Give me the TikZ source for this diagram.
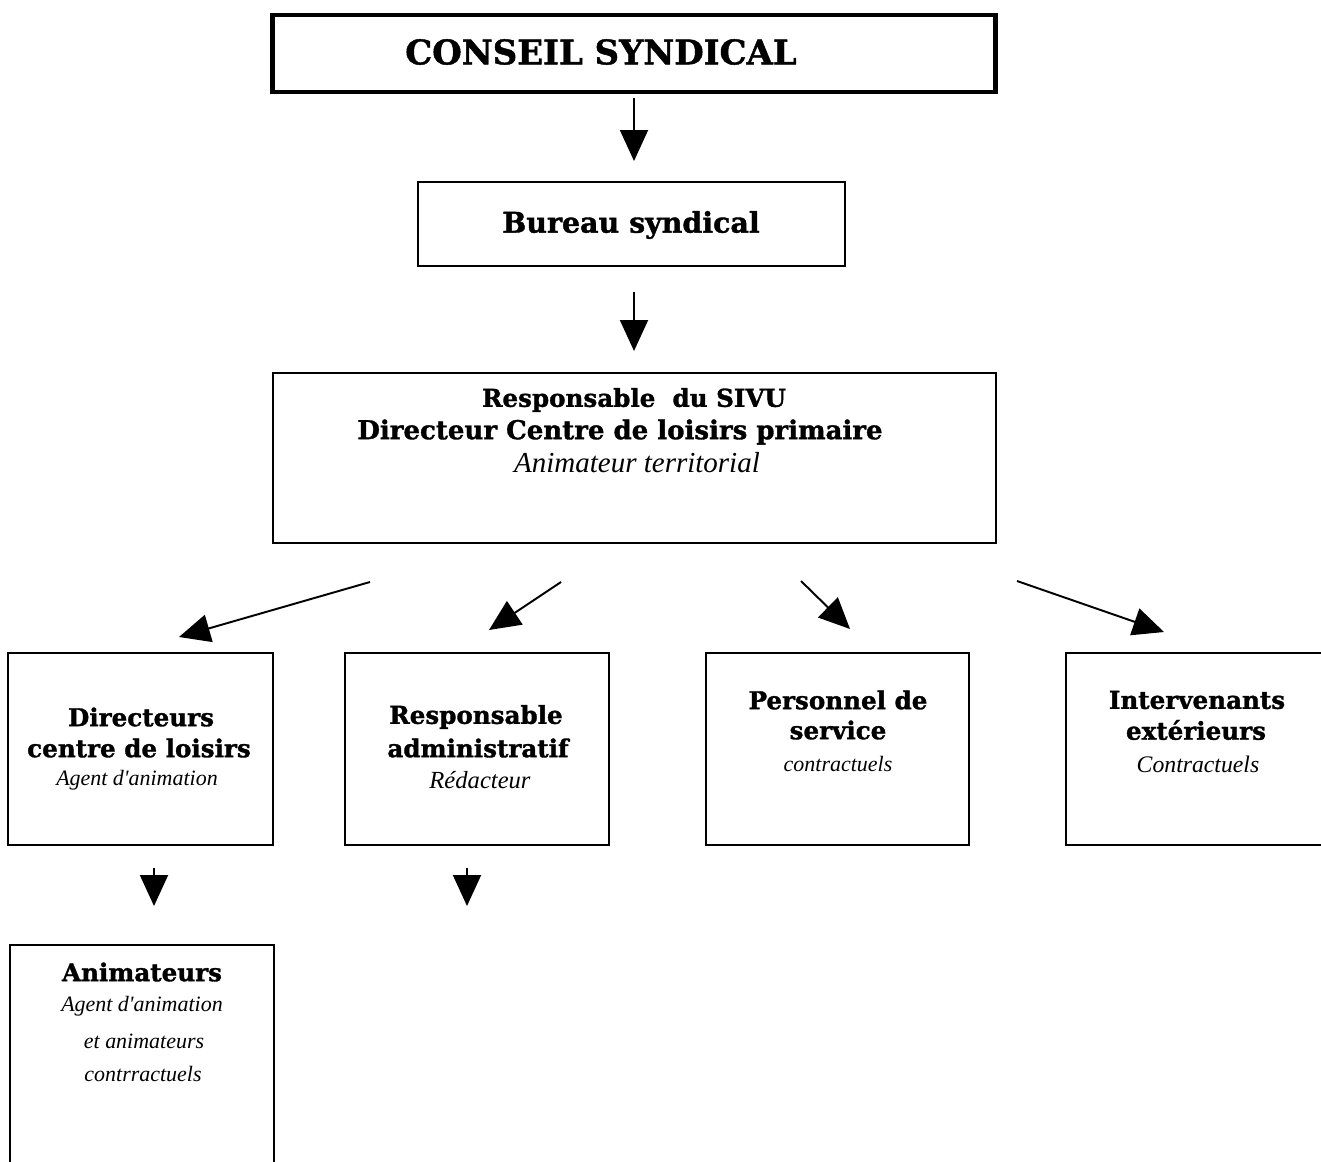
\documentclass[tikz,border=0pt]{standalone}
\usepackage{fontspec}
\setmainfont{DejaVu Serif}[BoldFeatures={FakeBold=1.3}]
\newfontfamily\scriptf{Liberation Serif}
\usetikzlibrary{arrows.meta}
\begin{document}
\begin{tikzpicture}[x=0.02cm,y=-0.02cm,
  box/.style={draw, line width=1.1pt, inner sep=0pt},
  arr/.style={line width=1.1pt, -{Triangle[length=0.62cm,width=0.56cm]}},
  hd/.style={font=\bfseries\fontsize{14}{17}\selectfont, inner sep=0pt},
  sc/.style={font=\scriptf\itshape\fontsize{12.5}{15}\selectfont, inner sep=0pt}]
\useasboundingbox (0,0) rectangle (1321,1162);

% boxes
\node[box, line width=2.8pt, minimum width=14.48cm, minimum height=1.54cm] (conseil) at (634,53.5) {};
\node[box, minimum width=8.54cm, minimum height=1.68cm] (bureau) at (631.5,224) {};
\node[box, minimum width=14.46cm, minimum height=3.4cm] (resp) at (634.5,458) {};
\node[box, minimum width=5.3cm, minimum height=3.84cm] (dir) at (140.5,749) {};
\node[box, minimum width=5.28cm, minimum height=3.84cm] (adm) at (477,749) {};
\node[box, minimum width=5.26cm, minimum height=3.84cm] (pers) at (837.5,749) {};
\node[box, minimum width=5.3cm, minimum height=3.84cm] (interv) at (1198.5,749) {};
\node[box, minimum width=5.28cm, minimum height=4.6cm] (anim) at (142,1060) {};

% texts
\node[hd, font=\bfseries\fontsize{19.3}{23}\selectfont] (t1) at (601,52) {CONSEIL SYNDICAL};
\node[hd, font=\bfseries\fontsize{16.2}{19}\selectfont] (t2) at (631,225) {Bureau syndical};
\node[hd] (t3a) at (634,400) {Responsable\ \ du SIVU};
\node[hd, font=\bfseries\fontsize{14.8}{17}\selectfont] (t3b) at (620,432) {Directeur Centre de loisirs primaire};
\node[sc, font=\scriptf\itshape\fontsize{16.5}{19}\selectfont] (t3c) at (637,463) {Animateur territorial};

\node[hd] (t4a) at (141,717) {Directeurs};
\node[hd] (t4b) at (139,748) {centre de loisirs};
\node[sc] (t4c) at (137,780) {Agent d'animation};

\node[hd] (t5a) at (476,717) {Responsable};
\node[hd] (t5b) at (478,748) {administratif};
\node[sc, font=\scriptf\itshape\fontsize{14}{17}\selectfont] (t5c) at (480,780) {Rédacteur};

\node[hd] (t6a) at (838,700) {Personnel de};
\node[hd] (t6b) at (838,730) {service};
\node[sc] (t6c) at (838,764) {contractuels};

\node[hd] (t7a) at (1197,700) {Intervenants};
\node[hd] (t7b) at (1196,730) {extérieurs};
\node[sc, font=\scriptf\itshape\fontsize{13.5}{16}\selectfont] (t7c) at (1198,764) {Contractuels};

\node[hd] (t8a) at (142,972) {Animateurs};
\node[sc] (t8b) at (142,1006) {Agent d'animation};
\node[sc] (t8c) at (144,1041) {et animateurs};
\node[sc] (t8d) at (143,1074) {contrractuels};

% arrow endpoints
\coordinate (a1s) at (634,98);   \coordinate (a1e) at (634,161);
\coordinate (a2s) at (634,292);  \coordinate (a2e) at (634,351);
\coordinate (a3s) at (370,582);  \coordinate (a3e) at (179,637);
\coordinate (a4s) at (561,582);  \coordinate (a4e) at (489,630);
\coordinate (a5s) at (801,581);  \coordinate (a5e) at (850,629);
\coordinate (a6s) at (1017,581); \coordinate (a6e) at (1164,632);
\coordinate (a7s) at (154,868);  \coordinate (a7e) at (154,906);
\coordinate (a8s) at (467,868);  \coordinate (a8e) at (467,906);

\foreach \i in {1,...,8} \draw[arr] (a\i s) -- (a\i e);
\end{tikzpicture}
\end{document}
